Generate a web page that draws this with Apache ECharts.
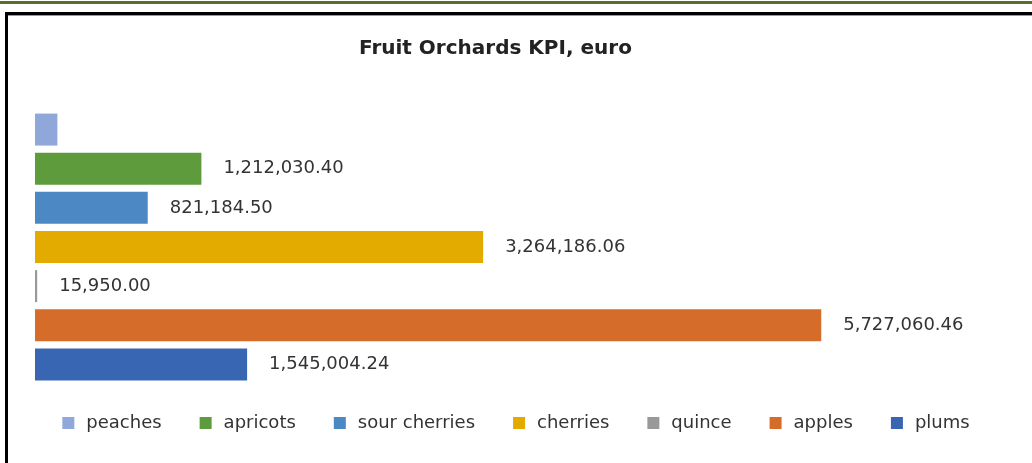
<!doctype html>
<html lang="en">
<head>
    <meta charset="UTF-8">
    <script src="https://cdn.jsdelivr.net/npm/echarts@6/dist/echarts.min.js"></script>
    <title>Fruit Orchards KPI</title>
    <style>
        html, body { margin: 0; padding: 0; background: #fff; }
    </style>
</head>
<body>
<div id="main" style="width: 1032px;height:463px;"></div>
<script type="text/javascript">
    // fruit names, top to bottom as in the chart
    var fruits = ['peaches', 'apricots', 'sour cherries', 'cherries', 'quince', 'apples', 'plums'];
    // KPI values in euro
    var values = [163000, 1212030.40, 821184.50, 3264186.06, 15950.00, 5727060.46, 1545004.24];
    var colors = ['#8fa7d9', '#5e9b3c', '#4c88c4', '#e3aa00', '#999999', '#d66c29', '#3866b3'];
    // peaches has no data label in the original
    var showLabel = [false, true, true, true, true, true, true];

    function fmt(v) {
        var parts = v.toFixed(2).split('.');
        parts[0] = parts[0].replace(/\B(?=(\d{3})+(?!\d))/g, ',');
        return parts.join('.');
    }

    var myChart = echarts.init(document.getElementById('main'));

    var series = [];
    for (var i = 0; i < fruits.length; i++) {
        var data = [];
        for (var j = 0; j < fruits.length; j++) {
            data.push(i === j ? values[i] : '-');
        }
        series.push({
            name: fruits[i],
            type: 'bar',
            stack: 'all',
            barWidth: 32,
            data: data,
            itemStyle: { color: colors[i] },
            label: {
                show: showLabel[i],
                position: 'right',
                distance: 22,
                color: '#333',
                fontFamily: 'DejaVu Sans',
                fontSize: 18,
                formatter: function (p) { return fmt(p.value); }
            }
        });
    }

    var option = {
        animation: false,
        title: {
            text: 'Fruit Orchards KPI, euro',
            left: 354,
            top: 34,
            textStyle: { fontFamily: 'DejaVu Sans', fontSize: 20, fontWeight: 'bold', color: '#222' }
        },
        legend: {
            data: fruits,
            top: 409,
            left: 'center',
            itemWidth: 12,
            itemHeight: 12,
            itemGap: 38,
            icon: 'rect',
            textStyle: { fontFamily: 'DejaVu Sans', fontSize: 18, color: '#333', padding: [0, 0, 0, 7] }
        },
        grid: { left: 35, right: 36, top: 110, bottom: 79 },
        xAxis: {
            type: 'value',
            min: 0,
            max: 7000000,
            show: false
        },
        yAxis: {
            type: 'category',
            data: fruits,
            inverse: true,
            show: false
        },
        graphic: [
            { type: 'rect', shape: { x: 0, y: 1, width: 1032, height: 3 }, style: { fill: '#5b6e2c' } },
            { type: 'rect', shape: { x: 6.5, y: 13.5, width: 1040, height: 460 }, style: { fill: 'none', stroke: '#000', lineWidth: 3 } },
            { type: 'line', shape: { x1: 8, y1: 15.5, x2: 1032, y2: 15.5 }, style: { stroke: '#999', lineWidth: 1 } }
        ],
        series: series
    };

    myChart.setOption(option);
</script>
</body>
</html>
